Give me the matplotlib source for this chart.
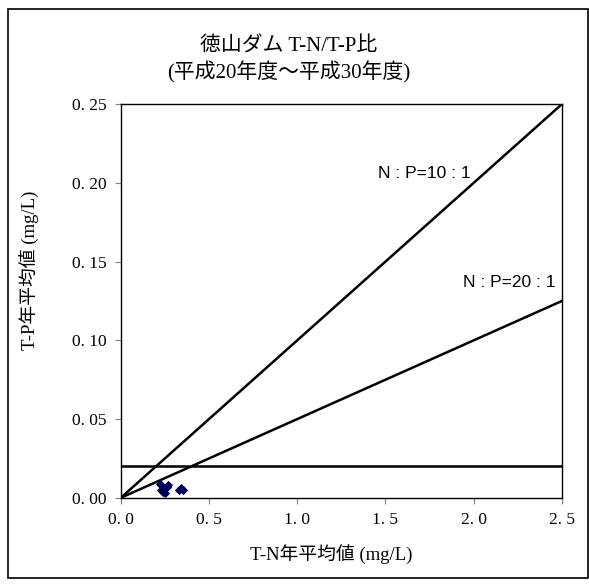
import numpy as np
import matplotlib.pyplot as plt
from matplotlib.patches import Rectangle

# T-N / T-P annual means (mg/L), H20 - H30
tn = [0.22, 0.23, 0.24, 0.25, 0.26, 0.27, 0.25, 0.24, 0.33, 0.35, 0.34]
tp = [0.009, 0.005, 0.004, 0.006, 0.007, 0.008, 0.003, 0.006, 0.005, 0.005, 0.006]

# reference lines
ratio_x = [0.0, 2.5]
np10_y = [0.0, 0.25]
np20_y = [0.0, 0.125]
tp_limit = 0.02

xticks = [0.0, 0.5, 1.0, 1.5, 2.0, 2.5]
yticks = [0.0, 0.05, 0.10, 0.15, 0.20, 0.25]
xticklabels = ['0. 0', '0. 5', '1. 0', '1. 5', '2. 0', '2. 5']
yticklabels = ['0. 00', '0. 05', '0. 10', '0. 15', '0. 20', '0. 25']

serif = ['Liberation Serif', 'Noto Sans CJK JP']
sans = ['Liberation Sans', 'Noto Sans CJK JP']
plt.rcParams['font.family'] = serif

fig = plt.figure(figsize=(5.89, 5.85), dpi=100)
fig.patches.append(Rectangle((0.014, 0.012), 0.984, 0.972, transform=fig.transFigure,
                             fill=False, edgecolor='black', linewidth=1.2))
ax = fig.add_axes([0.205, 0.149, 0.749, 0.673])

ax.plot(ratio_x, np10_y, color='black', lw=1.8)
ax.plot(ratio_x, np20_y, color='black', lw=1.8)
ax.axhline(tp_limit, color='black', lw=1.8)
ax.scatter(tn, tp, marker='D', s=14, color='#000080', edgecolor='#000040', zorder=3)

ax.text(1.46, 0.203, 'N : P=10 : 1', fontsize=12.5, family=sans)
ax.text(1.94, 0.134, 'N : P=20 : 1', fontsize=12.5, family=sans)

ax.set_xlim(0, 2.5)
ax.set_ylim(0, 0.25)
ax.set_xticks(xticks)
ax.set_yticks(yticks)
ax.set_xticklabels(xticklabels, fontsize=12.5)
ax.set_yticklabels(yticklabels, fontsize=12.5)
ax.tick_params(direction='out', length=4, width=0.8, color='#808080', pad=6)
for s in ax.spines.values():
    s.set_linewidth(1.0)

fig.text(0.49, 0.912, '徳山ダム T-N/T-P比', ha='center', fontsize=15)
fig.text(0.49, 0.866, '(平成20年度～平成30年度)', ha='center', fontsize=15)
fig.text(0.563, 0.043, 'T-N年平均値 (mg/L)', ha='center', fontsize=13.5)
fig.text(0.032, 0.538, 'T-P年平均値 (mg/L)', va='center', rotation=90, fontsize=13.5)

plt.savefig('out.png', dpi=100)
